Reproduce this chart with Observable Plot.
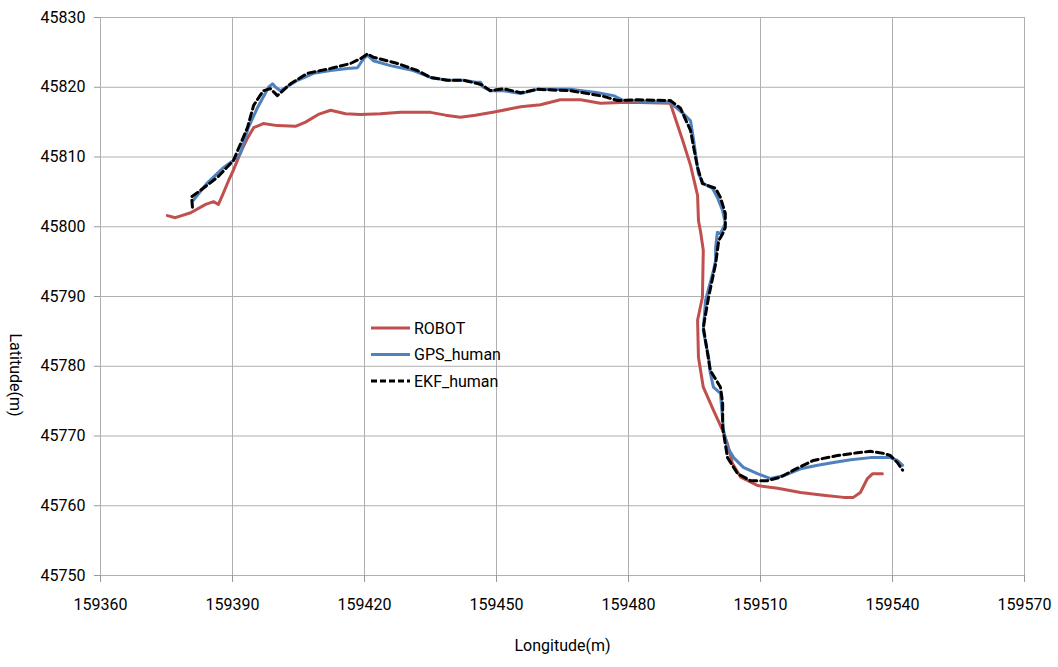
<!DOCTYPE html>
<html><head><meta charset="utf-8">
<script src="https://cdn.jsdelivr.net/npm/d3@7"></script>
<script src="https://cdn.jsdelivr.net/npm/@observablehq/plot@0.6"></script>
<style>body{margin:0;background:#fff;} svg{font-family:Roboto,"Noto Sans",sans-serif;}</style>
</head><body><div id="chart"></div>
<script>
const xTicks = [159360,159390,159420,159450,159480,159510,159540,159570];
const yTicks = [45750,45760,45770,45780,45790,45800,45810,45820,45830];
const seriesNames = ["ROBOT","GPS_human","EKF_human"];
const seriesColors = ["#C0504D","#4F81BD","#000000"];

const robotX = [159375.2,159377.0,159380.5,159383.9,159385.7,159386.8,159387.7,159389.1,159390.2,159391.8,159393.4,159394.8,159397.0,159400.2,159404.3,159406.6,159409.5,159412.3,159415.7,159419.1,159423.6,159428.2,159435.0,159438.4,159441.8,159445.2,159449.8,159455.5,159460.0,159464.5,159469.1,159473.6,159478.2,159482.7,159489.5,159492.3,159494.1,159495.7,159495.9,159496.4,159497.0,159496.8,159495.7,159495.9,159497.0,159499.3,159501.4,159502.5,159503.6,159505.5,159509.3,159513.9,159519.1,159524.3,159528.9,159531.1,159532.7,159534.3,159535.5,159537.7];
const robotY = [45801.6,45801.3,45802.0,45803.2,45803.6,45803.2,45804.5,45806.6,45808.1,45810.6,45812.7,45814.2,45814.8,45814.5,45814.4,45815.0,45816.1,45816.7,45816.2,45816.1,45816.2,45816.4,45816.4,45816.0,45815.7,45816.0,45816.5,45817.2,45817.5,45818.2,45818.2,45817.7,45817.8,45817.8,45817.7,45812.4,45808.8,45804.5,45800.9,45799.2,45796.6,45789.9,45786.6,45781.3,45777.0,45773.7,45770.8,45768.9,45766.1,45764.1,45762.9,45762.5,45761.9,45761.5,45761.2,45761.2,45761.9,45763.9,45764.6,45764.6];

const gpsX = [159381.1,159384.3,159388.0,159390.2,159391.8,159393.6,159395.7,159398.2,159399.1,159399.8,159400.9,159404.8,159408.4,159412.3,159416.1,159418.4,159419.8,159420.7,159422.0,159425.9,159431.1,159435.0,159438.9,159442.5,159445.7,159446.4,159447.0,159448.6,159451.6,159455.5,159459.3,159466.8,159473.0,159476.6,159478.9,159489.5,159492.5,159494.1,159494.8,159495.9,159497.0,159499.1,159500.2,159501.4,159502.0,159500.9,159500.2,159499.8,159499.8,159499.3,159497.5,159497.0,159498.2,159498.6,159499.3,159500.9,159501.6,159502.5,159503.9,159506.1,159509.3,159512.3,159515.2,159519.1,159523.0,159526.6,159530.5,159535.0,159539.5,159541.1,159542.3];
const gpsY = [45803.8,45806.3,45808.5,45809.5,45810.5,45814.2,45817.1,45820.0,45820.5,45820.0,45819.5,45821.0,45822.0,45822.4,45822.7,45822.8,45824.1,45824.6,45823.8,45823.1,45822.4,45821.4,45821.0,45821.0,45820.7,45820.7,45820.0,45819.5,45819.5,45819.1,45819.7,45819.7,45819.2,45818.8,45818.1,45817.8,45816.2,45815.2,45812.4,45807.6,45806.2,45805.5,45804.2,45802.3,45800.5,45799.0,45799.2,45797.0,45795.2,45793.7,45789.4,45785.1,45781.3,45779.0,45777.0,45776.1,45770.8,45768.4,45766.9,45765.5,45764.6,45763.9,45764.3,45765.3,45765.8,45766.2,45766.6,45766.9,45766.9,45766.5,45765.8];

const ekfX = [159380.9,159380.7,159382.7,159386.6,159390.2,159393.4,159394.8,159397.0,159398.6,159400.2,159403.2,159407.0,159412.3,159416.8,159419.1,159420.7,159422.0,159427.5,159432.0,159435.0,159438.9,159442.5,159445.9,159446.8,159448.6,159451.6,159455.5,159459.3,159466.8,159470.7,159474.3,159477.5,159482.0,159489.5,159491.8,159494.1,159494.8,159495.7,159496.8,159499.8,159500.9,159502.0,159502.0,159501.4,159500.5,159499.8,159498.2,159497.0,159498.6,159500.9,159501.4,159501.4,159502.5,159504.8,159507.7,159511.6,159514.5,159517.5,159522.0,159527.5,159532.0,159535.0,159538.0,159539.5,159541.1,159542.3];
const ekfY = [45802.8,45804.3,45805.2,45807.1,45809.5,45814.2,45817.4,45819.5,45819.8,45818.8,45820.5,45822.0,45822.7,45823.4,45824.1,45824.8,45824.3,45823.4,45822.4,45821.4,45821.0,45821.0,45820.5,45820.3,45819.5,45819.8,45819.2,45819.7,45819.5,45819.1,45818.7,45818.1,45818.2,45818.1,45817.0,45813.8,45811.4,45808.5,45806.2,45805.5,45804.2,45801.9,45799.9,45799.0,45798.0,45794.7,45789.9,45785.6,45779.4,45777.0,45774.7,45771.2,45766.9,45764.6,45763.6,45763.6,45764.1,45765.1,45766.5,45767.2,45767.6,45767.8,45767.5,45767.2,45766.2,45765.1];

const toRows = (xs, ys) => xs.map((x, i) => ({x, y: ys[i]}));
const robot = toRows(robotX, robotY);
const gps = toRows(gpsX, gpsY);
const ekf = toRows(ekfX, ekfY);

const fmt = d => String(d);
const chart = Plot.plot({
  width: 1058, height: 667,
  marginLeft: 100, marginRight: 34, marginTop: 17, marginBottom: 92,
  style: {fontSize: "16px", fontFamily: "Roboto, 'Noto Sans', sans-serif", color: "#000", background: "#fff"},
  x: {domain: [159360, 159570]},
  y: {domain: [45750, 45830]},
  marks: [
    Plot.gridX(xTicks, {stroke: "#b0b0b0", strokeOpacity: 1, strokeWidth: 1}),
    Plot.gridY(yTicks, {stroke: "#b0b0b0", strokeOpacity: 1, strokeWidth: 1}),
    Plot.axisX(xTicks, {tickFormat: fmt, tickSize: 7, tickPadding: 16, stroke: "#999", label: null, fontSize: 16, fill: "#000"}),
    Plot.axisY(yTicks, {tickFormat: fmt, tickSize: 6, tickPadding: 9, stroke: "#999", label: null, fontSize: 16, fill: "#000"}),
    Plot.text(["Longitude(m)"], {frameAnchor: "bottom", dy: 75, fontSize: 16, fill: "#000"}),
    Plot.text(["Latitude(m)"], {frameAnchor: "left", dx: -85, dy: 37, rotate: 90, fontSize: 16, fill: "#000"}),
    Plot.line(robot, {x: "x", y: "y", stroke: seriesColors[0], strokeWidth: 3, curve: "linear"}),
    Plot.line(gps, {x: "x", y: "y", stroke: seriesColors[1], strokeWidth: 3, curve: "linear"}),
    Plot.line(ekf, {x: "x", y: "y", stroke: seriesColors[2], strokeWidth: 3, strokeDasharray: "7,4", curve: "linear"})
  ]
});
document.getElementById("chart").appendChild(chart);

// legend inside the plot area
const svg = d3.select(chart);
const lg = svg.append("g").attr("transform", "translate(371,328)").attr("text-anchor", "start");
seriesNames.forEach((name, i) => {
  const g = lg.append("g").attr("transform", `translate(0,${i * 26.5})`);
  g.append("line").attr("x1", 0).attr("x2", 39).attr("y1", 0).attr("y2", 0)
    .attr("stroke", seriesColors[i]).attr("stroke-width", 3)
    .attr("stroke-dasharray", i === 2 ? "6,3" : null);
  g.append("text").attr("x", 43).attr("y", 0).attr("dy", "0.35em")
    .attr("text-anchor", "start")
    .attr("font-size", 16).attr("fill", "#000").text(name);
});
</script></body></html>
